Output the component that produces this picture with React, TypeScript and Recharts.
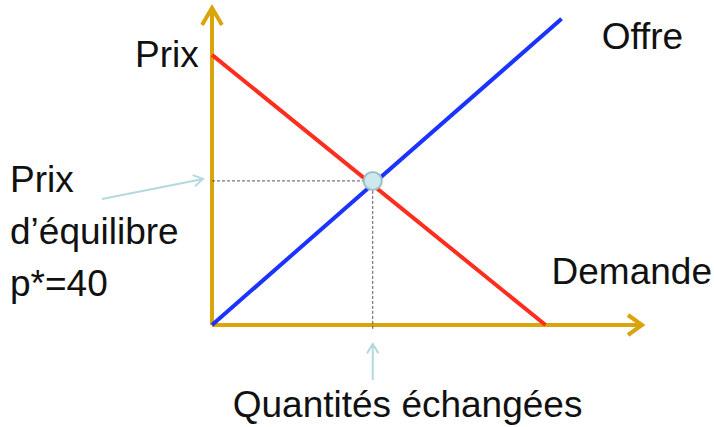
import { ComposedChart, Line, XAxis, YAxis, ReferenceLine, ReferenceDot } from "recharts"

// axis extents (quantity / price units)
const quantityMax = 107
const priceMax = 88

// demand and supply curves
const demandQ = [0, 83]
const demandP = [75, 0]
const supplyQ = [0, 87]
const supplyP = [0, 85]

// equilibrium
const eqQ = 40
const eqP = 40

const priceLabel = "Prix"
const supplyLabel = "Offre"
const demandLabel = "Demande"
const quantityLabel = "Quantités échangées"
const eqLabelLines = ["Prix", "d’équilibre", "p*=40"]

const demand = demandQ.map((q, i) => ({ q, p: demandP[i] }))
const supply = supplyQ.map((q, i) => ({ q, p: supplyP[i] }))

const GOLD = "#d9a40c"
const HINT = "#b3d9df"
const textStyle = {
  fontFamily: "'Liberation Sans', Arial, sans-serif",
  fontSize: 37,
  fill: "#111",
}

// simple line with an open chevron at the end
function arrow(x1: number, y1: number, x2: number, y2: number, len = 11, spread = 0.55) {
  const a = Math.atan2(y2 - y1, x2 - x1)
  const w1x = x2 - len * Math.cos(a - spread)
  const w1y = y2 - len * Math.sin(a - spread)
  const w2x = x2 - len * Math.cos(a + spread)
  const w2y = y2 - len * Math.sin(a + spread)
  return `M${x1},${y1} L${x2},${y2} M${w1x},${w1y} L${x2},${y2} L${w2x},${w2y}`
}

export default function App() {
  return (
    <div style={{ position: "absolute", left: 0, top: 0, background: "#fff" }}>
      <ComposedChart width={714} height={427} margin={{ top: 8, right: 72, bottom: 102, left: 212 }}>
        <XAxis type="number" dataKey="q" domain={[0, quantityMax]} hide />
        <YAxis type="number" dataKey="p" domain={[0, priceMax]} hide />

        {/* axes */}
        <ReferenceLine segment={[{ x: 0, y: 0 }, { x: quantityMax, y: 0 }]} stroke={GOLD} strokeWidth={4} />
        <ReferenceLine segment={[{ x: 0, y: 0 }, { x: 0, y: priceMax }]} stroke={GOLD} strokeWidth={4} />
        <ReferenceDot
          x={quantityMax}
          y={0}
          r={0}
          shape={(p: any) => (
            <polyline
              points={`${p.cx - 14},${p.cy - 10} ${p.cx},${p.cy} ${p.cx - 14},${p.cy + 10}`}
              fill="none"
              stroke={GOLD}
              strokeWidth={4}
            />
          )}
        />
        <ReferenceDot
          x={0}
          y={priceMax}
          r={0}
          shape={(p: any) => (
            <polyline
              points={`${p.cx - 10},${p.cy + 17} ${p.cx},${p.cy} ${p.cx + 10},${p.cy + 17}`}
              fill="none"
              stroke={GOLD}
              strokeWidth={4}
            />
          )}
        />

        {/* guide lines to the axes */}
        <ReferenceLine
          segment={[{ x: 0, y: eqP }, { x: eqQ, y: eqP }]}
          stroke="#555"
          strokeDasharray="3 2"
          ifOverflow="visible"
        />
        <ReferenceLine
          segment={[{ x: eqQ, y: eqP }, { x: eqQ, y: -1.5 }]}
          stroke="#555"
          strokeDasharray="3 2"
          ifOverflow="visible"
        />

        <Line data={demand} dataKey="p" type="linear" stroke="#ff2d1d" strokeWidth={4} dot={false} isAnimationActive={false} />
        <Line data={supply} dataKey="p" type="linear" stroke="#1a33ff" strokeWidth={4} dot={false} isAnimationActive={false} />

        {/* labels */}
        <ReferenceDot
          x={0}
          y={priceMax}
          r={0}
          shape={(p: any) => (
            <text x={p.cx - 77} y={p.cy + 59} style={textStyle}>{priceLabel}</text>
          )}
        />
        <ReferenceDot
          x={supplyQ[1]}
          y={supplyP[1]}
          r={0}
          shape={(p: any) => (
            <text x={p.cx + 40} y={p.cy + 30} style={textStyle}>{supplyLabel}</text>
          )}
        />
        <ReferenceDot
          x={demandQ[1]}
          y={0}
          r={0}
          shape={(p: any) => (
            <text x={p.cx + 6} y={p.cy - 41} style={textStyle}>{demandLabel}</text>
          )}
        />
        <ReferenceDot
          x={0}
          y={eqP}
          r={0}
          shape={(p: any) => (
            <g>
              {eqLabelLines.map((t, i) => (
                <text key={t} x={p.cx - 202} y={p.cy + 11 + i * 52} style={textStyle}>{t}</text>
              ))}
              <path d={arrow(p.cx - 110, p.cy + 18, p.cx - 9, p.cy - 2)} fill="none" stroke={HINT} strokeWidth={2} />
            </g>
          )}
        />
        <ReferenceDot
          x={eqQ}
          y={0}
          r={0}
          shape={(p: any) => (
            <g>
              <path d={arrow(p.cx, p.cy + 55, p.cx, p.cy + 19)} fill="none" stroke={HINT} strokeWidth={2} />
              <text x={p.cx - 140} y={p.cy + 92} style={textStyle}>{quantityLabel}</text>
            </g>
          )}
        />

        {/* equilibrium point */}
        <ReferenceDot x={eqQ} y={eqP} r={9} fill="#cfe8ee" stroke="#9cc0c7" strokeWidth={2} />
      </ComposedChart>
    </div>
  )
}
